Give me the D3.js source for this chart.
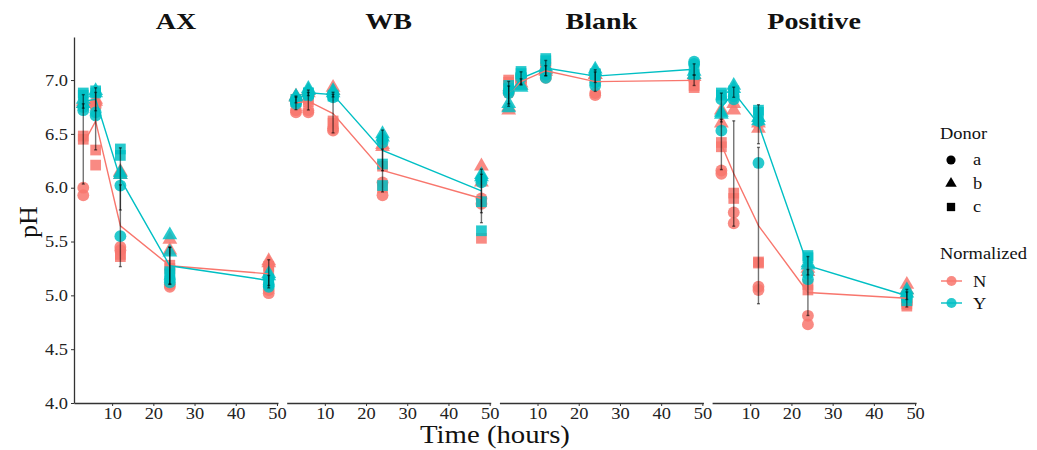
<!DOCTYPE html>
<html>
<head>
<meta charset="utf-8">
<script src="https://cdn.jsdelivr.net/npm/d3@7"></script>
<style>
  body { margin: 0; background: #fff; }
  text { font-family: "Liberation Serif", "Times New Roman", serif; }
</style>
</head>
<body>
<div id="chart"></div>
<script>
// panels / factors
const panels = ["AX", "WB", "Blank", "Positive"];
const times = [3, 6, 12, 24, 48];
const donors = ["a", "b", "c"];
const groups = ["N", "Y"];
const groupColors = ["#F8766D", "#00BFC4"];
const yTicks = [4.0, 4.5, 5.0, 5.5, 6.0, 6.5, 7.0];
const xTicks = [10, 20, 30, 40, 50];

// pH readings per time: [a1, a2, b1, b2, c1, c2]
const axN = [[5.93, 6.0, 6.8, 6.78, 6.45, 6.48], [6.78, 6.75, 6.8, 6.82, 6.35, 6.21], [5.45, 5.42, 6.15, 6.12, 5.38, 5.36], [5.08, 5.1, 5.52, 5.42, 5.28, 5.25], [5.02, 5.05, 5.32, 5.3, 5.27, 5.24]];
const axY = [[6.72, 6.75, 6.78, 6.82, 6.86, 6.88], [6.67, 6.7, 6.88, 6.9, 6.9, 6.88], [6.02, 5.55, 6.14, 6.12, 6.3, 6.36], [5.15, 5.12, 5.56, 5.4, 5.2, 5.22], [5.08, 5.1, 5.2, 5.18, 5.12, 5.15]];
const wbN = [[6.7, 6.72, 6.85, 6.84, 6.8, 6.82], [6.7, 6.72, 6.9, 6.88, 6.82, 6.8], [6.55, 6.53, 6.93, 6.9, 6.6, 6.62], [6.05, 5.93, 6.4, 6.38, 6.2, 6.0], [5.9, 5.85, 6.2, 6.05, 5.87, 5.53]];
const wbY = [[6.78, 6.8, 6.85, 6.84, 6.82, 6.8], [6.85, 6.86, 6.9, 6.92, 6.88, 6.88], [6.84, 6.86, 6.88, 6.9, 6.86, 6.85], [6.45, 6.42, 6.5, 6.47, 6.22, 6.02], [6.08, 6.05, 6.12, 6.1, 5.87, 5.6]];
const blankN = [[6.9, 6.88, 6.75, 6.72, 7.0, 6.98], [7.0, 6.98, 6.95, 6.97, 7.0, 7.02], [7.05, 7.02, 7.1, 7.08, 7.12, 7.15], [6.88, 6.86, 7.05, 7.05, 7.02, 7.05], [7.02, 7.0, 7.05, 7.03, 6.93, 6.95]];
const blankY = [[6.88, 6.9, 6.74, 6.78, 6.92, 6.95], [7.05, 7.02, 6.95, 6.93, 7.06, 7.08], [7.02, 7.05, 7.12, 7.1, 7.18, 7.2], [6.95, 6.98, 7.1, 7.08, 7.05, 7.06], [7.17, 7.15, 7.05, 7.08, 7.1, 7.05]];
const posN = [[6.16, 6.13, 6.72, 6.6, 6.42, 6.38], [5.77, 5.67, 6.78, 6.72, 5.95, 5.9], [5.08, 5.05, 6.6, 6.55, 5.31, 5.3], [4.81, 4.73, 5.25, 5.22, 5.1, 5.05], [4.92, 4.95, 5.1, 5.05, 4.9, 4.92]];
const posY = [[6.53, 6.82, 6.68, 6.7, 6.86, 6.88], [6.82, 6.85, 6.92, 6.95, 6.88, 6.9], [6.23, 6.62, 6.62, 6.65, 6.7, 6.72], [5.15, 5.2, 5.3, 5.28, 5.35, 5.37], [4.98, 5.0, 5.05, 5.02, 4.95, 4.98]];

const panelData = [[axN, axY], [wbN, wbY], [blankN, blankY], [posN, posY]];

const width = 1037, height = 450;
const plotLeft = 74, panelW = 204, panelGap = 8.7;
const plotTop = 37, plotBottom = 403;

const svg = d3.select("#chart").append("svg")
    .attr("width", width)
    .attr("height", height);

const y = d3.scaleLinear().domain([4, 7.4]).range([plotBottom, plotTop]);

const symbolFor = {
    a: d3.symbolCircle,
    b: d3.symbolTriangle,
    c: d3.symbolSquare
};
const symbolSize = { a: 110, b: 95, c: 115 };

// y axis (only once, left)
const yAxis = svg.append("g")
    .attr("transform", "translate(" + plotLeft + ",0)")
    .call(d3.axisLeft(y).tickValues(yTicks).tickFormat(d3.format(".1f")).tickSize(3).tickSizeOuter(0));
yAxis.select(".domain").attr("stroke", "#333").attr("stroke-width", 1.3);
yAxis.selectAll(".tick line").attr("stroke", "#333");
yAxis.selectAll(".tick text").attr("font-size", 16).attr("fill", "#222").attr("x", -6)
    .style("font-family", "'Liberation Serif', serif");

panels.forEach(function (name, pi) {
    const x0 = plotLeft + pi * (panelW + panelGap);
    const x = d3.scaleLinear().domain([0.75, 50.25]).range([x0, x0 + panelW]);
    const g = svg.append("g");

    // x axis
    const xa = g.append("g")
        .attr("transform", "translate(0," + plotBottom + ")")
        .call(d3.axisBottom(x).tickValues(xTicks).tickSize(3).tickSizeOuter(0));
    xa.select(".domain").attr("stroke", "#333").attr("stroke-width", 1.3);
    xa.selectAll(".tick line").attr("stroke", "#333");
    xa.selectAll(".tick text").attr("font-size", 16).attr("fill", "#222").attr("y", 5)
        .style("font-family", "'Liberation Serif', serif");

    // title
    g.append("text")
        .attr("class", "ptitle")
        .attr("x", x0 + panelW / 2)
        .attr("y", 29)
        .attr("text-anchor", "middle")
        .attr("font-size", 23)
        .attr("font-weight", "bold")
        .attr("fill", "#111")
        .text(name);

    const series = panelData[pi];

    // points
    series.forEach(function (rows, gi) {
        rows.forEach(function (vals, ti) {
            vals.forEach(function (v, k) {
                const d = donors[Math.floor(k / 2)];
                g.append("path")
                    .attr("d", d3.symbol().type(symbolFor[d]).size(symbolSize[d])())
                    .attr("transform", "translate(" + x(times[ti]) + "," + y(v) + ")")
                    .attr("fill", groupColors[gi])
                    .attr("opacity", 0.85);
            });
        });
    });

    // mean lines
    const line = d3.line()
        .x(function (d) { return x(d.t); })
        .y(function (d) { return y(d.m); });
    series.forEach(function (rows, gi) {
        const means = rows.map(function (vals, ti) { return { t: times[ti], m: d3.mean(vals) }; });
        g.append("path")
            .datum(means)
            .attr("d", line)
            .attr("fill", "none")
            .attr("stroke", groupColors[gi])
            .attr("stroke-width", 1.4);
    });

    // error bars (mean +/- sd)
    series.forEach(function (rows) {
        rows.forEach(function (vals, ti) {
            const m = d3.mean(vals), s = d3.deviation(vals);
            const cx = x(times[ti]);
            const eb = g.append("g").attr("stroke", "#000").attr("stroke-opacity", 0.55).attr("stroke-width", 1.4);
            eb.append("line").attr("x1", cx).attr("x2", cx).attr("y1", y(m - s)).attr("y2", y(m + s));
            eb.append("line").attr("x1", cx - 1.5).attr("x2", cx + 1.5).attr("y1", y(m - s)).attr("y2", y(m - s));
            eb.append("line").attr("x1", cx - 1.5).attr("x2", cx + 1.5).attr("y1", y(m + s)).attr("y2", y(m + s));
        });
    });
});

// axis titles
svg.append("text")
    .attr("x", 495)
    .attr("y", 443)
    .attr("text-anchor", "middle")
    .attr("font-size", 25)
    .attr("fill", "#111")
    .text("Time (hours)");

svg.append("text")
    .attr("transform", "translate(37," + ((plotTop + plotBottom) / 2 + 2) + ") rotate(-90)")
    .attr("text-anchor", "middle")
    .attr("font-size", 26)
    .attr("fill", "#111")
    .text("pH");

// legend
const legend = svg.append("g");
legend.append("text").attr("x", 940).attr("y", 139).attr("font-size", 16).attr("fill", "#111").text("Donor");
donors.forEach(function (d, i) {
    const ly = 160 + i * 23.5;
    legend.append("path")
        .attr("d", d3.symbol().type(symbolFor[d]).size(symbolSize[d] * 0.6)())
        .attr("transform", "translate(951," + ly + ")")
        .attr("fill", "#000");
    legend.append("text").attr("x", 973).attr("y", ly + 5).attr("font-size", 16).attr("fill", "#111").text(d);
});
legend.append("text").attr("x", 940).attr("y", 259).attr("font-size", 16).attr("fill", "#111").text("Normalized");
groups.forEach(function (gname, i) {
    const ly = 281 + i * 22;
    legend.append("line")
        .attr("x1", 941).attr("x2", 962).attr("y1", ly).attr("y2", ly)
        .attr("stroke", groupColors[i]).attr("stroke-width", 1.4);
    legend.append("circle")
        .attr("cx", 951.5).attr("cy", ly).attr("r", 5)
        .attr("fill", groupColors[i]).attr("opacity", 0.85);
    legend.append("text").attr("x", 973).attr("y", ly + 6).attr("font-size", 16).attr("fill", "#111").text(gname);
});

// the source figure is a little stretched sideways; widen the text to match
svg.selectAll("text").each(function () {
    const t = d3.select(this);
    if (t.attr("transform")) return;
    const k = t.classed("ptitle") ? 1.22 : 1.15;
    const len = this.getComputedTextLength();
    t.attr("textLength", len * k).attr("lengthAdjust", "spacingAndGlyphs");
});
</script>
</body>
</html>
